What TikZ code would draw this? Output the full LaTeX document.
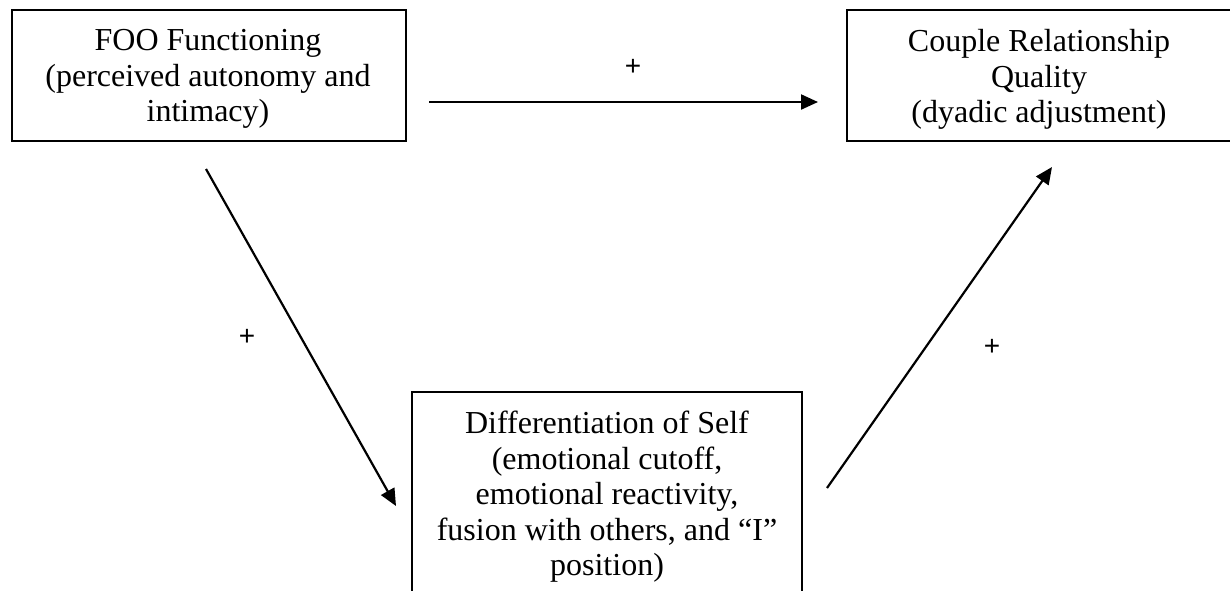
\documentclass[tikz,border=0pt]{standalone}
\usepackage{fontspec}
\setmainfont{Liberation Serif}
\newfontfamily\plusfont{Liberation Sans}
\usetikzlibrary{arrows.meta}
\begin{document}
\begin{tikzpicture}[x=0.5pt,y=-0.5pt,
  frame/.style={draw=black, line width=0.7pt, inner sep=0pt},
  boxtext/.style={align=center, font=\fontsize{16}{17.75}\selectfont, inner sep=0pt, anchor=north},
  link/.style={line width=1.1pt, -{Triangle[length=8.5pt,width=7.5pt]}},
  sign/.style={font=\plusfont\fontsize{14}{16}\selectfont, inner sep=0pt}]
\useasboundingbox (0,0) rectangle (1230,590);
\clip (0,0) rectangle (1230,590);
% boxes
\node[frame, minimum width=197pt, minimum height=65.5pt] (foo) at (209,75.5) {};
\node[frame, minimum width=192.5pt, minimum height=65.5pt] (crq) at (1039.5,75.5) {};
\node[frame, minimum width=195pt, minimum height=104pt] (dos) at (607,496) {};
% texts
\node[boxtext] (footext) at (208,29) {FOO Functioning\\(perceived autonomy and\\intimacy)};
\node[boxtext] (crqtext) at (1039,29) {Couple Relationship\\Quality\\(dyadic adjustment)};
\node[boxtext] (dostext) at (607,411) {Differentiation of Self\\(emotional cutoff,\\emotional reactivity,\\fusion with others, and “I”\\position)};
% connector ends
\coordinate (hs) at (429,102);
\coordinate (he) at (818,102);
\coordinate (ls) at (206,169);
\coordinate (le) at (396,506);
\coordinate (rs) at (827,488);
\coordinate (re) at (1052,167);
\draw[link] (hs) -- (he);
\draw[link] (ls) -- (le);
\draw[link] (rs) -- (re);
% signs
\node[sign] (p1) at (633,67) {+};
\node[sign] (p2) at (247,337) {+};
\node[sign] (p3) at (992,347) {+};
\end{tikzpicture}
\end{document}
